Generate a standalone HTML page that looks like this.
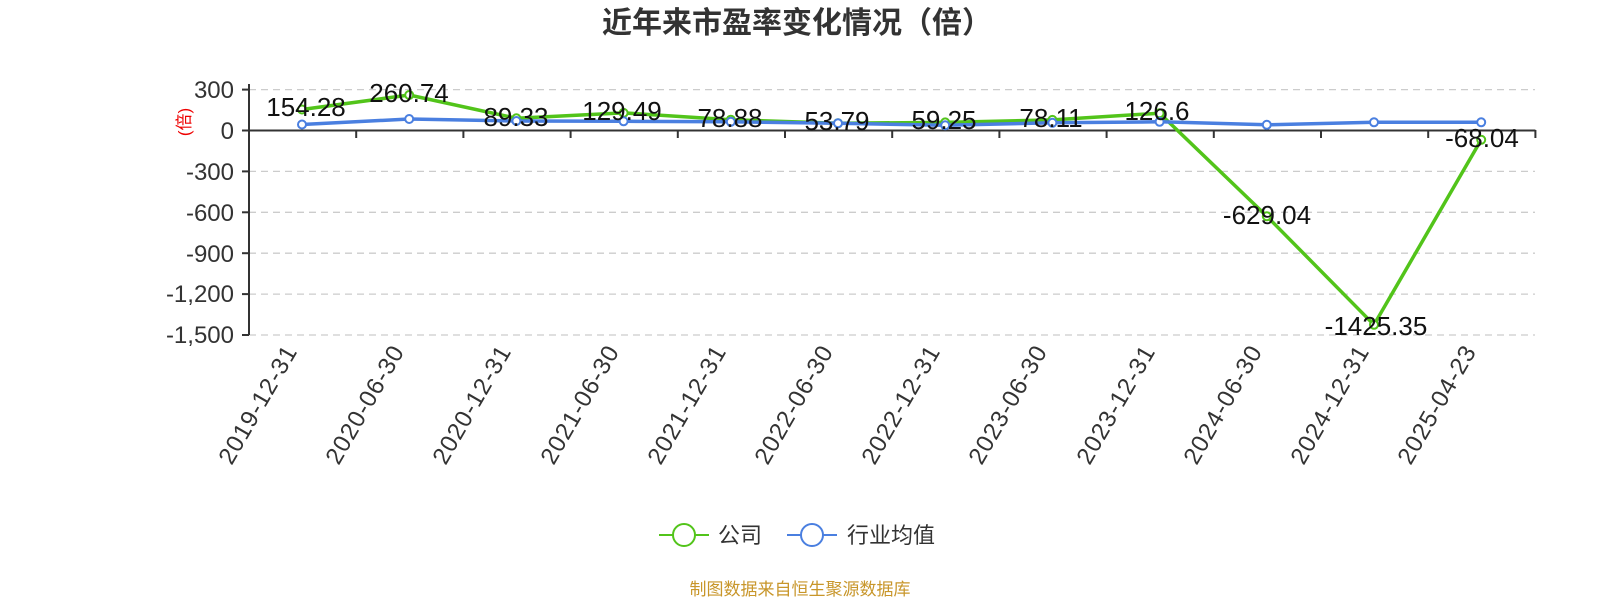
<!DOCTYPE html>
<html><head><meta charset="utf-8"><style>
body{margin:0;background:#fff;}
svg{display:block;font-family:"Liberation Sans","Noto Sans CJK SC",sans-serif;}
</style></head><body>
<svg width="1600" height="600" viewBox="0 0 1600 600" xmlns="http://www.w3.org/2000/svg">
<text x="797" y="33" text-anchor="middle" font-size="30" font-weight="bold" fill="#333">近年来市盈率变化情况（倍）</text>
<g stroke="#ccc" stroke-dasharray="7,5" stroke-width="1.3">
<line x1="249" y1="89.6" x2="1535" y2="89.6"/>
<line x1="249" y1="171.4" x2="1535" y2="171.4"/>
<line x1="249" y1="212.3" x2="1535" y2="212.3"/>
<line x1="249" y1="253.2" x2="1535" y2="253.2"/>
<line x1="249" y1="294.1" x2="1535" y2="294.1"/>
<line x1="249" y1="335" x2="1535" y2="335"/>
</g>
<g stroke="#333" stroke-width="2">
<line x1="249" y1="84" x2="249" y2="335"/>
<line x1="249" y1="130.5" x2="1535.4" y2="130.5"/>
<line x1="242" y1="89.6" x2="249" y2="89.6"/><line x1="242" y1="130.5" x2="249" y2="130.5"/>
<line x1="242" y1="171.4" x2="249" y2="171.4"/><line x1="242" y1="212.3" x2="249" y2="212.3"/>
<line x1="242" y1="253.2" x2="249" y2="253.2"/><line x1="242" y1="294.1" x2="249" y2="294.1"/>
<line x1="242" y1="335" x2="249" y2="335"/>
<line x1="356.2" y1="130" x2="356.2" y2="138"/><line x1="463.4" y1="130" x2="463.4" y2="138"/>
<line x1="570.6" y1="130" x2="570.6" y2="138"/><line x1="677.8" y1="130" x2="677.8" y2="138"/>
<line x1="785" y1="130" x2="785" y2="138"/><line x1="892.2" y1="130" x2="892.2" y2="138"/>
<line x1="999.4" y1="130" x2="999.4" y2="138"/><line x1="1106.6" y1="130" x2="1106.6" y2="138"/>
<line x1="1213.8" y1="130" x2="1213.8" y2="138"/><line x1="1321" y1="130" x2="1321" y2="138"/>
<line x1="1428.2" y1="130" x2="1428.2" y2="138"/><line x1="1535.4" y1="130" x2="1535.4" y2="138"/>
</g>
<g font-size="24" fill="#333" text-anchor="end">
<text x="234" y="98">300</text><text x="234" y="139">0</text>
<text x="234" y="180">-300</text><text x="234" y="221">-600</text>
<text x="234" y="262">-900</text><text x="234" y="302">-1,200</text>
<text x="234" y="343">-1,500</text>
</g>
<text transform="translate(190,122) rotate(-90)" text-anchor="middle" font-size="17" fill="#e00">(倍)</text>
<g font-size="24" fill="#333" text-anchor="end" letter-spacing="1">
<text transform="translate(298,351) rotate(-60)">2019-12-31</text>
<text transform="translate(405,351) rotate(-60)">2020-06-30</text>
<text transform="translate(512,351) rotate(-60)">2020-12-31</text>
<text transform="translate(620,351) rotate(-60)">2021-06-30</text>
<text transform="translate(727,351) rotate(-60)">2021-12-31</text>
<text transform="translate(834,351) rotate(-60)">2022-06-30</text>
<text transform="translate(941,351) rotate(-60)">2022-12-31</text>
<text transform="translate(1048,351) rotate(-60)">2023-06-30</text>
<text transform="translate(1156,351) rotate(-60)">2023-12-31</text>
<text transform="translate(1263,351) rotate(-60)">2024-06-30</text>
<text transform="translate(1370,351) rotate(-60)">2024-12-31</text>
<text transform="translate(1477,351) rotate(-60)">2025-04-23</text>
</g>
<polyline fill="none" stroke="#52c41a" stroke-width="3.5" stroke-linejoin="round" points="302,109.5 409.2,95 516.4,118.3 623.6,112.9 730.8,119.7 838,123.2 945.2,122.4 1052.4,119.9 1159.6,113.2 1266.8,216.2 1374,324.8 1481.2,139.8"/>
<g fill="#fff" stroke="#52c41a" stroke-width="2">
<circle cx="302" cy="109.5" r="4"/><circle cx="409.2" cy="95" r="4"/><circle cx="516.4" cy="118.3" r="4"/><circle cx="623.6" cy="112.9" r="4"/><circle cx="730.8" cy="119.7" r="4"/><circle cx="838" cy="123.2" r="4"/><circle cx="945.2" cy="122.4" r="4"/><circle cx="1052.4" cy="119.9" r="4"/><circle cx="1159.6" cy="113.2" r="4"/><circle cx="1266.8" cy="216.2" r="4"/><circle cx="1374" cy="324.8" r="4"/><circle cx="1481.2" cy="139.8" r="4"/>
</g>
<polyline fill="none" stroke="#4a7fe0" stroke-width="3.5" stroke-linejoin="round" points="302,124.5 409.2,119 516.4,121 623.6,121.3 730.8,121.8 838,123.3 945.2,125.3 1052.4,122.8 1159.6,121.8 1266.8,124.8 1374,122.3 1481.2,122.3"/>
<g fill="#fff" stroke="#4a7fe0" stroke-width="2">
<circle cx="302" cy="124.5" r="4"/><circle cx="409.2" cy="119" r="4"/><circle cx="516.4" cy="121" r="4"/><circle cx="623.6" cy="121.3" r="4"/><circle cx="730.8" cy="121.8" r="4"/><circle cx="838" cy="123.3" r="4"/><circle cx="945.2" cy="125.3" r="4"/><circle cx="1052.4" cy="122.8" r="4"/><circle cx="1159.6" cy="121.8" r="4"/><circle cx="1266.8" cy="124.8" r="4"/><circle cx="1374" cy="122.3" r="4"/><circle cx="1481.2" cy="122.3" r="4"/>
</g>
<g font-size="26" fill="#111" text-anchor="middle">
<text x="306" y="116">154.28</text>
<text x="409" y="102">260.74</text>
<text x="516" y="126">89.33</text>
<text x="622" y="120">129.49</text>
<text x="730" y="127">78.88</text>
<text x="837" y="130">53.79</text>
<text x="944" y="129">59.25</text>
<text x="1051" y="127">78.11</text>
<text x="1157" y="120">126.6</text>
<text x="1267" y="224">-629.04</text>
<text x="1376" y="335">-1425.35</text>
<text x="1482" y="147">-68.04</text>
</g>
<line x1="659" y1="535" x2="709" y2="535" stroke="#52c41a" stroke-width="2"/>
<circle cx="684" cy="535" r="11" fill="#fff" stroke="#52c41a" stroke-width="2"/>
<text x="718" y="543" font-size="22" fill="#333">公司</text>
<line x1="787" y1="535" x2="837" y2="535" stroke="#4a7fe0" stroke-width="2"/>
<circle cx="812" cy="535" r="11" fill="#fff" stroke="#4a7fe0" stroke-width="2"/>
<text x="847" y="543" font-size="22" fill="#333">行业均值</text>
<text x="800" y="595" text-anchor="middle" font-size="17" fill="#c8962a">制图数据来自恒生聚源数据库</text>
</svg>
</body></html>
